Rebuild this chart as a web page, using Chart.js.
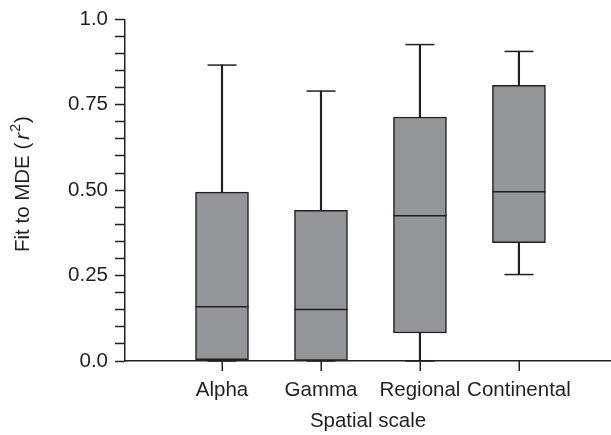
<!DOCTYPE html>
<html>
<head>
<meta charset="utf-8">
<script src="https://cdn.jsdelivr.net/npm/chart.js@4/dist/chart.umd.min.js"></script>
<style>
  html, body { margin: 0; padding: 0; background: #ffffff; }
  #wrap { width: 611px; height: 435px; position: relative; }
</style>
</head>
<body>
<div id="wrap"><canvas id="c"></canvas></div>
<script>
// ---- data ----
const categories  = ['Alpha', 'Gamma', 'Regional', 'Continental'];
const whiskerLow  = [0.0,   0.0,   0.0,   0.253];
const quartile1   = [0.004, 0.0,   0.082, 0.346];
const medians     = [0.159, 0.151, 0.425, 0.495];
const quartile3   = [0.494, 0.441, 0.714, 0.807];
const whiskerHigh = [0.866, 0.790, 0.926, 0.906];
const yTickLabels = { 0: '0.0', 25: '0.25', 50: '0.50', 75: '0.75', 100: '1.0' };
const xTitle = 'Spatial scale';
const yTitleParts = ['Fit to MDE (', 'r', '2', ')'];

const INK = '#231f20';
const BOXFILL = '#939598';
const FONT = '"Liberation Sans", Arial, Helvetica, sans-serif';
const FS = 20.5;

const pos = categories.map((c, i) => i + 1);

// category tick marks below the x axis, placed through the x scale
const xTickMarks = {
  id: 'xTickMarks',
  afterDraw(chart) {
    const ctx = chart.ctx;
    const xs = chart.scales.x;
    const y0 = chart.chartArea.bottom;
    ctx.save();
    ctx.strokeStyle = INK;
    ctx.lineWidth = 1.5;
    pos.forEach(p => {
      const px = Math.round(xs.getPixelForValue(p)) + 0.25;
      ctx.beginPath();
      ctx.moveTo(px, y0);
      ctx.lineTo(px, y0 + 10);
      ctx.stroke();
    });
    ctx.restore();
  }
};

const yTitlePlugin = {
  id: 'yTitle',
  afterDraw(chart) {
    const ctx = chart.ctx;
    const area = chart.chartArea;
    const cy = (area.top + area.bottom) / 2 - 6;
    ctx.save();
    ctx.translate(23, cy);
    ctx.rotate(-Math.PI / 2);
    ctx.fillStyle = INK;
    ctx.textBaseline = 'middle';
    ctx.textAlign = 'left';
    const fNorm = FS + 'px ' + FONT;
    const fItal = 'italic ' + FS + 'px ' + FONT;
    const fSup = '14px ' + FONT;
    ctx.font = fNorm; const w0 = ctx.measureText(yTitleParts[0]).width;
    ctx.font = fItal; const w1 = ctx.measureText(yTitleParts[1]).width;
    ctx.font = fSup;  const w2 = ctx.measureText(yTitleParts[2]).width;
    ctx.font = fNorm; const w3 = ctx.measureText(yTitleParts[3]).width;
    const gap = 3;
    const total = w0 + gap + w1 + 1 + w2 + 1 + w3;
    let x = -total / 2;
    ctx.font = fNorm; ctx.fillText(yTitleParts[0], x, 0); x += w0 + gap;
    ctx.font = fItal; ctx.fillText(yTitleParts[1], x, 0); x += w1 + 1;
    ctx.font = fSup;  ctx.fillText(yTitleParts[2], x, -7); x += w2 + 1;
    ctx.font = fNorm; ctx.fillText(yTitleParts[3], x, 0);
    ctx.restore();
  }
};

new Chart(document.getElementById('c'), {
  type: 'bar',
  data: {
    datasets: [
      {
        label: 'median',
        type: 'scatter',
        data: pos.map((p, i) => ({ x: p, y: medians[i] })),
        pointStyle: 'line',
        radius: 26.5,
        borderColor: INK,
        borderWidth: 1.5,
        clip: false,
        order: 0
      },
      {
        label: 'caps',
        type: 'scatter',
        data: pos.map((p, i) => ({ x: p, y: whiskerHigh[i] }))
          .concat(pos.map((p, i) => ({ x: p, y: whiskerLow[i] }))),
        pointStyle: 'line',
        radius: 14.5,
        borderColor: INK,
        borderWidth: 1.5,
        clip: false,
        order: 1
      },
      {
        label: 'box',
        data: pos.map((p, i) => ({ x: p, y: [quartile1[i], quartile3[i]] })),
        backgroundColor: BOXFILL,
        borderColor: INK,
        borderWidth: 1.5,
        borderSkipped: false,
        barThickness: 53,
        grouped: false,
        order: 2
      },
      {
        label: 'upper whisker',
        data: pos.map((p, i) => ({ x: p, y: [quartile3[i], whiskerHigh[i]] })),
        backgroundColor: INK,
        borderWidth: 0,
        barThickness: 1.5,
        grouped: false,
        order: 3
      },
      {
        label: 'lower whisker',
        data: pos.map((p, i) => ({ x: p, y: [whiskerLow[i], quartile1[i]] })),
        backgroundColor: INK,
        borderWidth: 0,
        barThickness: 1.5,
        grouped: false,
        order: 3
      }
    ]
  },
  options: {
    responsive: true,
    maintainAspectRatio: false,
    animation: false,
    events: [],
    layout: { autoPadding: false, padding: { top: 0, right: 0, left: 0, bottom: 0 } },
    plugins: {
      legend: { display: false },
      tooltip: { enabled: false }
    },
    scales: {
      x: {
        type: 'linear',
        min: 0.02,
        max: 4.93,
        offset: false,
        afterBuildTicks(axis) { axis.ticks = pos.map(v => ({ value: v })); },
        afterFit(scale) { scale.height = 74; },
        grid: { offset: false, drawOnChartArea: false, drawTicks: false },
        border: { display: true, color: INK, width: 1.5 },
        ticks: {
          autoSkip: false,
          maxRotation: 0,
          padding: 17,
          color: INK,
          font: { family: FONT, size: FS },
          callback: (v) => categories[Math.round(v) - 1] ?? ''
        },
        title: {
          display: true,
          text: xTitle,
          color: INK,
          font: { family: FONT, size: FS },
          padding: { top: 0, bottom: 1 }
        }
      },
      y: {
        min: 0,
        max: 1,
        afterFit(scale) { scale.width = 125; },
        grid: { drawOnChartArea: false, drawTicks: true, tickLength: 10, tickColor: INK, tickWidth: 1.5 },
        border: { display: true, color: INK, width: 1.5 },
        ticks: {
          stepSize: 0.05,
          autoSkip: false,
          padding: 7,
          color: INK,
          font: { family: FONT, size: FS },
          callback: (v) => { const k = Math.round(v * 100); return (k in yTickLabels) ? yTickLabels[k] : ''; }
        }
      }
    }
  },
  plugins: [xTickMarks, yTitlePlugin]
});
</script>
</body>
</html>
